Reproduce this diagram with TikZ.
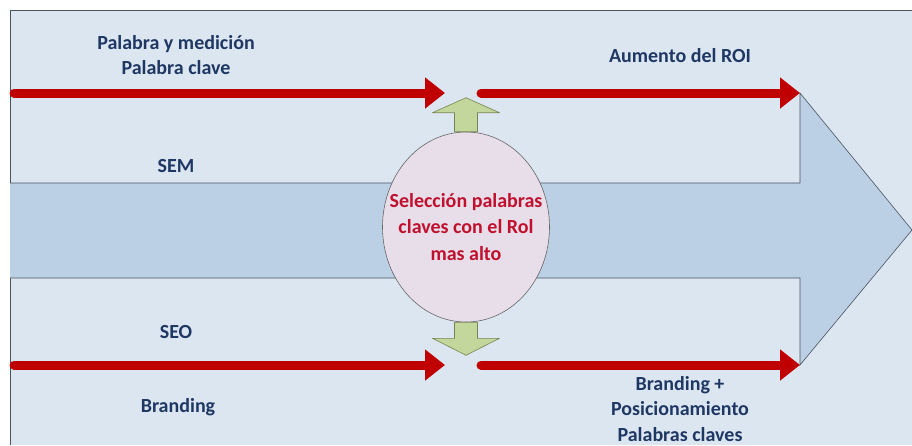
\documentclass[tikz,border=0pt]{standalone}
\usepackage{fontspec}
\setmainfont{Carlito}
\usetikzlibrary{arrows.meta,shapes.geometric}

\definecolor{bgBlue}{HTML}{DCE6F1}
\definecolor{arrowBlue}{HTML}{BCD0E5}
\definecolor{frameGray}{HTML}{4A5460}
\definecolor{txtBlue}{HTML}{1F3763}
\definecolor{darkRed}{HTML}{C00000}
\definecolor{selRed}{HTML}{C0102E}
\definecolor{selFill}{HTML}{E7DEE9}
\definecolor{greenFill}{HTML}{C3D69B}
\definecolor{greenLine}{HTML}{76854F}

\tikzset{
  label/.style={text=txtBlue, font=\fontsize{20}{25.5}\selectfont\bfseries, align=center, inner sep=0pt},
  redarrow/.style={draw=darkRed, line width=9pt, line cap=round, -{Triangle[length=20pt,width=30pt]}},
  greenarrow/.style={draw=greenLine, fill=greenFill, line width=0.6pt, line join=round},
}

\begin{document}
\begin{tikzpicture}[x=1pt, y=-1pt]
            % ==== DEFINITIONS ====
            \def\shaftTop{183} % top of the big arrow shaft
            \def\shaftBot{278} % bottom of the big arrow shaft
            \def\headX{800} % where the big head starts

            \useasboundingbox (0,0) rectangle (912,445);

            % ==== BACKGROUND ====
            \fill[bgBlue] (10,10) rectangle (912,445);
            \draw[frameGray, line width=0.8pt] (10,445) -- (10,10) -- (912,10);

            % ==== BIG ARROW ====
            \draw[frameGray, fill=arrowBlue, line width=0.6pt]
              (10,\shaftTop) -- (\headX,\shaftTop) -- (\headX,93) -- (912,230)
              -- (\headX,365) -- (\headX,\shaftBot) -- (10,\shaftBot);

            % ==== RED ARROWS ====
            \coordinate (kwIn) at (14,93);
            \coordinate (kwOut) at (445,93);
            \coordinate (roiIn) at (481,93);
            \coordinate (roiOut) at (800,93);
            \coordinate (brIn) at (14,365);
            \coordinate (brOut) at (445,365);
            \coordinate (posIn) at (481,365);
            \coordinate (posOut) at (800,365);
            \draw[redarrow] (kwIn) -- (kwOut);
            \draw[redarrow] (roiIn) -- (roiOut);
            \draw[redarrow] (brIn) -- (brOut);
            \draw[redarrow] (posIn) -- (posOut);

            % ==== SELECTION ====
            \node[ellipse, draw=gray!80!black, fill=selFill, line width=0.6pt,
                  minimum width=167pt, minimum height=190pt, inner sep=0pt]
              (sel) at (466,227) {};
            \node[text=selRed, align=center, inner sep=0pt,
                  font=\fontsize{20}{26.5}\selectfont\bfseries]
              (selText) at (sel.center) {Selección palabras\\claves con el Rol\\mas alto};

            % up and down
            \draw[greenarrow] (sel.north) ++(-11.5,0) -- ++(0,-19) -- ++(-22,0)
              -- ++(33.5,-15) -- ++(33.5,15) -- ++(-22,0) -- ++(0,19) -- cycle;
            \draw[greenarrow] (sel.south) ++(-11.5,0) -- ++(0,16) -- ++(-22,0)
              -- ++(33.5,17) -- ++(33.5,-17) -- ++(-22,0) -- ++(0,-16) -- cycle;

            % ==== LABELS ====
            \node[label] (kw) at (176,55) {Palabra y medición\\Palabra clave};
            \node[label] (sem) at (176,166) {SEM};
            \node[label] (roi) at (680,56) {Aumento del ROI};
            \node[label] (seo) at (176,332) {SEO};
            \node[label] (br) at (178,407) {Branding};
            \node[label] (pos) at (680,409) {Branding +\\Posicionamiento\\Palabras claves};

        \end{tikzpicture}
\end{document}
